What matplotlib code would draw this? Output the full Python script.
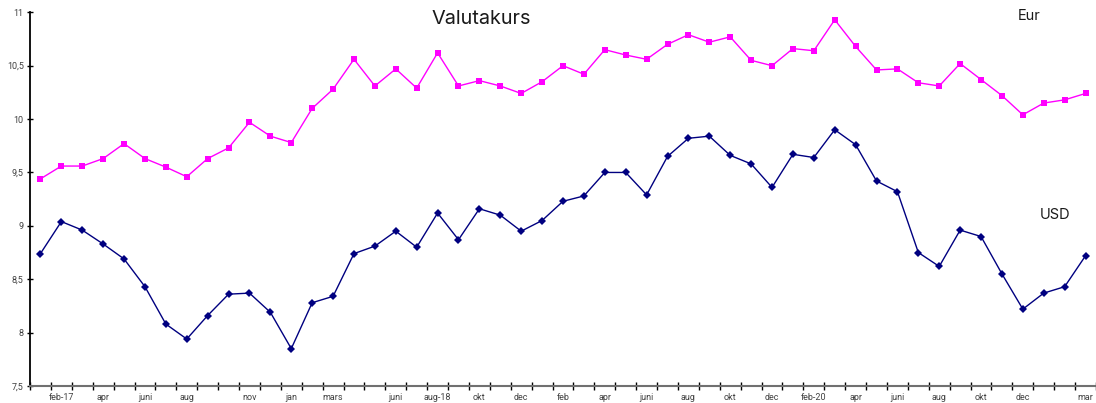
import numpy as np
import matplotlib.pyplot as plt

# =========================
# DATA (monthly, jan-17 .. mar-21)
# =========================
eur = [9.44, 9.56, 9.56, 9.63, 9.77, 9.63, 9.55, 9.46, 9.63, 9.73,
       9.97, 9.84, 9.78, 10.10, 10.28, 10.56, 10.31, 10.47, 10.29, 10.62,
       10.31, 10.36, 10.31, 10.24, 10.35, 10.50, 10.42, 10.65, 10.60, 10.56,
       10.70, 10.79, 10.72, 10.77, 10.55, 10.50, 10.66, 10.64, 10.93, 10.68,
       10.46, 10.47, 10.34, 10.31, 10.52, 10.37, 10.22, 10.04, 10.15, 10.18,
       10.24]
usd = [8.74, 9.04, 8.96, 8.83, 8.69, 8.43, 8.08, 7.94, 8.16, 8.36,
       8.37, 8.19, 7.85, 8.28, 8.34, 8.74, 8.81, 8.95, 8.80, 9.12,
       8.87, 9.16, 9.10, 8.95, 9.05, 9.23, 9.28, 9.50, 9.50, 9.29,
       9.65, 9.82, 9.84, 9.66, 9.58, 9.36, 9.67, 9.64, 9.90, 9.76,
       9.42, 9.32, 8.75, 8.62, 8.96, 8.90, 8.55, 8.22, 8.37, 8.43,
       8.72]

# labelled months (index into the series -> text)
label_idx = [1, 3, 5, 7, 10, 12, 14, 17, 19, 21, 23, 25, 27, 29, 31,
             33, 35, 37, 39, 41, 43, 45, 47, 50]
label_txt = ["feb-17", "apr", "juni", "aug", "nov", "jan", "mars", "juni",
             "aug-18", "okt", "dec", "feb", "apr", "juni", "aug", "okt",
             "dec", "feb-20", "apr", "juni", "aug", "okt", "dec", "mar"]

y_ticks = [7.5, 8, 8.5, 9, 9.5, 10, 10.5, 11]

# =========================
# PLOT
# =========================
W, H = 1096, 403
fig = plt.figure(figsize=(W / 100, H / 100), dpi=100)
ax = fig.add_axes([30 / W, 1 - 386 / H, 1066 / W, (386 - 12.3) / H])

x = np.arange(len(eur))
ax.plot(x, eur, color="#FF00FF", lw=1.0, marker="s", ms=5.0,
        markeredgewidth=0)
ax.plot(x, usd, color="#000080", lw=1.0, marker="D", ms=4.3,
        markeredgewidth=0)

ax.set_xlim(-0.5, len(eur) - 0.5)
ax.set_ylim(7.5, 11)

# category ticks between points, labels under selected points
ax.set_xticks(np.arange(-0.5, len(eur), 1.0))
ax.set_xticklabels([])
ax.set_xticks(label_idx, minor=True)
ax.set_xticklabels(label_txt, minor=True)
ax.tick_params(axis="x", which="major", direction="inout", length=6,
               width=1, color="black")
ax.tick_params(axis="x", which="minor", length=0, pad=5,
               labelsize=6.5, labelcolor="#404040")

ax.set_yticks(y_ticks)
ax.set_yticklabels([f"{v:g}".replace(".", ",") for v in y_ticks])
ax.tick_params(axis="y", direction="inout", length=5, width=1,
               color="black", labelsize=6.5, labelcolor="#404040", pad=2)

for t in ax.get_xticklabels(minor=True) + ax.get_yticklabels():
    t.set_family(["Roboto", "DejaVu Sans"])

ax.spines["top"].set_visible(False)
ax.spines["right"].set_visible(False)
ax.spines["left"].set_color("black")
ax.spines["left"].set_linewidth(1.3)
ax.spines["bottom"].set_color("#707070")
ax.spines["bottom"].set_linewidth(1.5)

fig.text(481 / W, 1 - 19 / H, "Valutakurs", ha="center", va="center",
         fontsize=14.3, family=["Inter", "DejaVu Sans"], color="#1a1a1a")
fig.text(1029 / W, 1 - 16 / H, "Eur", ha="center", va="center",
         fontsize=10.5, family=["Inter", "DejaVu Sans"], color="#1a1a1a")
fig.text(1055 / W, 1 - 215 / H, "USD", ha="center", va="center",
         fontsize=10.5, family=["Inter", "DejaVu Sans"], color="#1a1a1a")

fig.savefig("out.png", dpi=100)
